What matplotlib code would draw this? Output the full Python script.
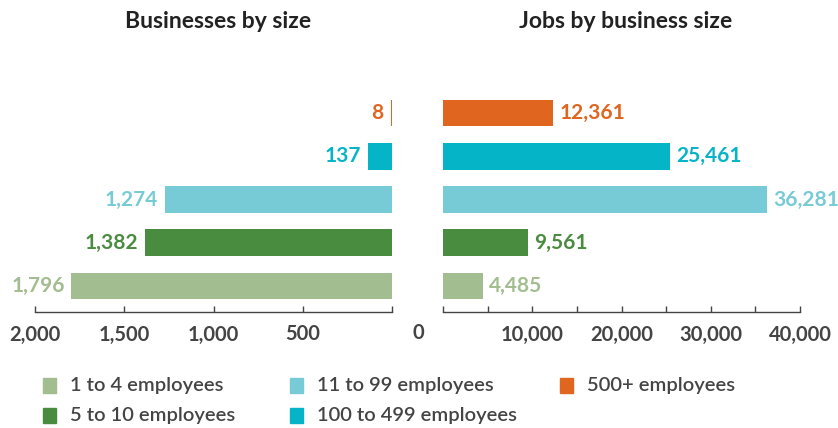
import matplotlib.pyplot as plt
from matplotlib.patches import Rectangle

plt.rcParams['font.family'] = ['Lato', 'DejaVu Sans']

# Data (bottom to top)
categories = ['1 to 4 employees', '5 to 10 employees', '11 to 99 employees',
              '100 to 499 employees', '500+ employees']
businesses = [1796, 1382, 1274, 137, 8]
jobs = [4485, 9561, 36281, 25461, 12361]
colors = ['#a2bd8f', '#4a8c3f', '#77cbd7', '#06b4c7', '#e0661f']

W, H = 838, 428
fig = plt.figure(figsize=(W / 100, H / 100), dpi=100)
gray = '#444444'

def px_ax(x0, x1, ytop, ybot):
    return fig.add_axes([x0 / W, 1 - ybot / H, (x1 - x0) / W, (ybot - ytop) / H])

ax1 = px_ax(35, 392, 87, 312)
ax2 = px_ax(443, 800, 87, 312)

ypos = list(range(len(categories)))
bh = 0.62

for ax in (ax1, ax2):
    ax.set_ylim(-0.6, 4.6)
    for s in ['top', 'right', 'left']:
        ax.spines[s].set_visible(False)
    ax.spines['bottom'].set_color(gray)
    ax.spines['bottom'].set_linewidth(1.0)
    ax.set_yticks([])
    ax.tick_params(axis='x', direction='in', length=4, width=1.0, color=gray,
                   labelcolor=gray, labelsize=14.5, pad=9)
    ax.patch.set_visible(False)

# Left: businesses
ax1.barh(ypos, businesses, height=bh, color=colors)
ax1.set_xlim(2000, 0)
ax1.set_xticks([2000, 1500, 1000, 500, 0])
ax1.set_xticklabels(['2,000', '1,500', '1,000', '500', ''], fontweight='bold')
for y, v, c in zip(ypos, businesses, colors):
    ax1.text(v + 38, y, f'{v:,}', ha='right', va='center', color=c,
             fontsize=15, fontweight='bold')
fig.text(418 / W, 1 - 333 / H, '0', ha='center', va='center', color=gray,
         fontsize=14.5, fontweight='bold')

# Right: jobs
ax2.barh(ypos, jobs, height=bh, color=colors)
ax2.set_xlim(0, 40000)
ax2.set_xticks(range(0, 40001, 5000))
ax2.set_xticklabels(['' if t % 10000 or t == 0 else f'{t:,}'
                     for t in range(0, 40001, 5000)], fontweight='bold')
for y, v, c in zip(ypos, jobs, colors):
    ax2.text(v + 700, y, f'{v:,}', ha='left', va='center', color=c,
             fontsize=15, fontweight='bold')

# Titles
fig.text(218 / W, 1 - 22 / H, 'Businesses by size', ha='center', va='center',
         fontsize=16.5, fontweight='bold', color='#222222')
fig.text(626 / W, 1 - 22 / H, 'Jobs by business size', ha='center', va='center',
         fontsize=16.5, fontweight='bold', color='#222222')

# Legend
leg_pos = [(43, 386), (43, 416), (290, 386), (290, 416), (560, 386)]
for (lx, ly), lab, c in zip(leg_pos, categories, colors):
    fig.add_artist(Rectangle((lx / W, 1 - (ly + 7) / H), 13 / W, 15 / H,
                             transform=fig.transFigure, color=c))
    fig.text((lx + 27) / W, 1 - ly / H, lab, ha='left', va='center',
             fontsize=14.5, fontweight='semibold', color=gray)

fig.savefig('out.png', dpi=100)
